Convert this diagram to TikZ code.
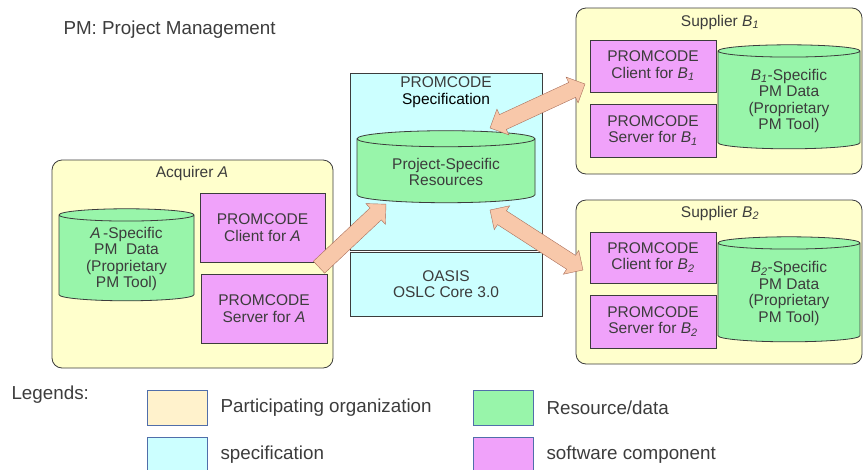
\documentclass[tikz,border=0pt]{standalone}
\usepackage{fontspec}
\setmainfont{Liberation Sans}
\usetikzlibrary{shapes.geometric,shapes.arrows,calc}
\definecolor{orgfill}{RGB}{255,255,204}
\definecolor{legorg}{RGB}{255,242,204}
\definecolor{specfill}{RGB}{204,255,255}
\definecolor{datafill}{RGB}{152,245,170}
\definecolor{datatop}{RGB}{200,255,215}
\definecolor{compfill}{RGB}{240,162,250}
\definecolor{arrfill}{RGB}{248,200,170}
\definecolor{arrline}{RGB}{170,110,90}
\definecolor{txt}{RGB}{60,60,60}
\definecolor{legline}{RGB}{80,110,170}
\tikzset{
  org/.style={draw=txt, fill=orgfill, rounded corners=10pt, thick},
  spec/.style={draw=txt, fill=specfill, thick},
  comp/.style={draw=txt, fill=compfill, thick, align=center, font=\fontsize{15.5}{16.5}\selectfont, text=txt},
  data/.style={draw=txt, fill=datafill, thick, cylinder, shape border rotate=90, aspect=0.14,
    cylinder uses custom fill, cylinder body fill=datafill, cylinder end fill=datatop,
    align=center, font=\fontsize{15.5}{16.5}\selectfont, text=txt},
  lbl/.style={font=\fontsize{15.5}{16.5}\selectfont, text=txt, align=center},
  blockarrow/.style={draw=arrline, fill=arrfill, inner xsep=0pt, inner ysep=8pt, single arrow,
    single arrow head extend=6pt, single arrow head indent=0pt},
  blockarrow2/.style={draw=arrline, fill=arrfill, inner xsep=0pt, inner ysep=8pt, double arrow,
    double arrow head extend=6pt},
  legbox/.style={draw=legline, minimum width=60, minimum height=35},
  legtxt/.style={anchor=west, font=\fontsize{18.8}{20}\selectfont, text=txt},
}
\begin{document}
\begin{tikzpicture}[x=1pt, y=-1pt]
    \useasboundingbox (0,0) rectangle (866,469);
    \node[anchor=west, font=\fontsize{18.8}{20}\selectfont, text=txt] (title) at (60,30) {PM: Project Management};

    % acquirer
    \node[org, minimum width=281, minimum height=208] (acq) at (192.5,264) {};
    \node[lbl] (acq-l) at (192,173) {Acquirer \textit{A}};
    \node[data, minimum width=135, minimum height=92] (dataA) at (126.5,259) {\textit{A}\,-Specific\\PM~~Data\\(Proprietary\\PM Tool)};
    \node[comp, minimum width=125, minimum height=69] (clientA) at (262.5,227.5) {PROMCODE\\Client for \textit{A}};
    \node[comp, minimum width=126, minimum height=69] (serverA) at (264,308.5) {PROMCODE\\Server for \textit{A}};

    % specification
    \node[spec, minimum width=192, minimum height=177] (spec) at (446,161.5) {};
    \node[lbl] (spec-l) at (446,92) {PROMCODE\\\textcolor{black}{Specification}};
    \node[spec, lbl, minimum width=192, minimum height=64] (oasis) at (446,284) {OASIS\\OSLC Core 3.0};
    \node[data, minimum width=178, minimum height=72] (proj) at (446,172) {Project-Specific\\Resources};

    % supplier B1
    \node[org, minimum width=286, minimum height=166] (supB1) at (719,91) {};
    \node[lbl] (supB1-l) at (720,22) {Supplier \textit{B\textsubscript{1}}};
    \node[comp, minimum width=126, minimum height=52] (clientB1) at (653,66) {PROMCODE\\Client for \textit{B\textsubscript{1}}};
    \node[comp, minimum width=126, minimum height=53] (serverB1) at (653,130.5) {PROMCODE\\Server for \textit{B\textsubscript{1}}};
    \node[data, minimum width=142, minimum height=104] (dataB1) at (789,101) {\textit{B\textsubscript{1}}-Specific\\PM Data\\(Proprietary\\PM Tool)};

    % supplier B2
    \node[org, minimum width=286, minimum height=164] (supB2) at (719,282) {};
    \node[lbl] (supB2-l) at (720,213) {Supplier \textit{B\textsubscript{2}}};
    \node[comp, minimum width=126, minimum height=51] (clientB2) at (653,257.5) {PROMCODE\\Client for \textit{B\textsubscript{2}}};
    \node[comp, minimum width=126, minimum height=53] (serverB2) at (653,321.5) {PROMCODE\\Server for \textit{B\textsubscript{2}}};
    \node[data, minimum width=142, minimum height=105] (dataB2) at (789,293.5) {\textit{B\textsubscript{2}}-Specific\\PM Data\\(Proprietary\\PM Tool)};

    % block arrows
    \coordinate (a-tail) at (316,270);
    \coordinate (a-head) at (383,207);
    \coordinate (b1-in) at (490,128);
    \coordinate (b1-out) at (585,84);
    \coordinate (b2-in) at (490,210);
    \coordinate (b2-out) at (583,270);
    \path let \p1=(a-tail), \p2=(a-head), \n1={atan2(\y2-\y1,\x2-\x1)}, \n2={veclen(\x2-\x1,\y2-\y1)} in
      node[blockarrow, minimum height=\n2, rotate=\n1] (arrA) at ($(a-tail)!.5!(a-head)$) {};
    \path let \p1=(b1-in), \p2=(b1-out), \n1={atan2(\y2-\y1,\x2-\x1)}, \n2={veclen(\x2-\x1,\y2-\y1)} in
      node[blockarrow2, minimum height=\n2, rotate=\n1] (arrB1) at ($(b1-in)!.5!(b1-out)$) {};
    \path let \p1=(b2-in), \p2=(b2-out), \n1={atan2(\y2-\y1,\x2-\x1)}, \n2={veclen(\x2-\x1,\y2-\y1)} in
      node[blockarrow2, minimum height=\n2, rotate=\n1] (arrB2) at ($(b2-in)!.5!(b2-out)$) {};

    % legends
    \node[legtxt] (leg) at (8,395) {Legends:};
    \node[legbox, fill=legorg] (leg-org) at (177,407.5) {};
    \node[legtxt] (leg-org-t) at (217,407.5) {Participating organization};
    \node[legbox, fill=datafill] (leg-data) at (503,407.5) {};
    \node[legtxt] (leg-data-t) at (543,407.5) {Resource/data};
    \node[legbox, fill=specfill] (leg-spec) at (177,454.5) {};
    \node[legtxt] (leg-spec-t) at (217,454.5) {specification};
    \node[legbox, fill=compfill] (leg-comp) at (503,454.5) {};
    \node[legtxt] (leg-comp-t) at (543,454.5) {software component};
  \end{tikzpicture}
\end{document}
